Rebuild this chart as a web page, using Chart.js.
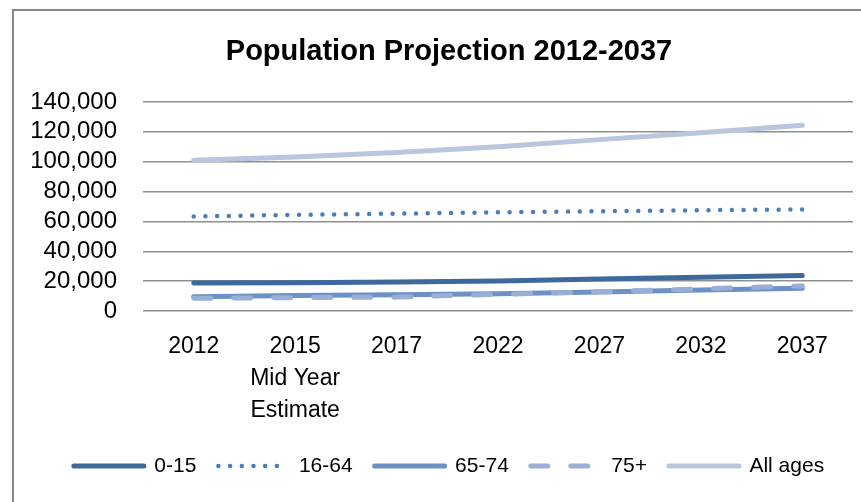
<!DOCTYPE html>
<html lang="en">
<head>
    <meta charset="UTF-8">
    <title>Population Projection 2012-2037</title>
    <script src="https://cdn.jsdelivr.net/npm/chart.js"></script>
    <style>
        html, body { margin: 0; padding: 0; overflow: hidden; background: #fff; }
        /* chart frame, only top and left edges are visible in the original */
        #frame {
            position: absolute; left: 12px; top: 9px;
            width: 900px; height: 600px;
            border: 2px solid #868686;
        }
        /* canvas is a bit wider than the window so title/legend centre like the original */
        #popChart { position: absolute; left: 0; top: 0; }
    </style>
</head>
<body>
    <div id="frame"></div>
    <canvas id="popChart" width="888" height="502"></canvas>

    <script>
        const categories = ['2012', ['2015', 'Mid Year', 'Estimate'], '2017', '2022', '2027', '2032', '2037'];
        const seriesNames = ['0-15', '16-64', '65-74', '75+', 'All ages'];
        const age0to15 = [18800, 19000, 19400, 20100, 21400, 22600, 23700];
        const age16to64 = [63300, 64400, 65200, 66100, 66800, 67500, 68000];
        const age65to74 = [9600, 10300, 10900, 11500, 12800, 14100, 15200];
        const age75plus = [8500, 8900, 9300, 11200, 12900, 14800, 16800];
        const allAges = [100900, 103200, 106200, 110000, 114800, 119400, 124400];
        const yMax = 140000;
        const yStep = 20000;

        const fontName = "'Liberation Sans', Arial, sans-serif";

        const styles = [
            { color: '#3e699d', width: 5, dash: [] },
            { color: '#4a7ebb', width: 4.5, dash: [0, 11.7] },
            { color: '#6d91c7', width: 5, dash: [] },
            { color: '#9aaed6', width: 5, dash: [17, 23] },
            { color: '#b9c6dd', width: 5, dash: [] }
        ];
        const values = [age0to15, age16to64, age65to74, age75plus, allAges];

        const datasets = values.map((v, i) => ({
            label: seriesNames[i],
            data: v,
            yAxisID: 'y',
            borderColor: styles[i].color,
            backgroundColor: styles[i].color,
            borderWidth: styles[i].width,
            borderDash: styles[i].dash,
            borderCapStyle: 'round',
            borderJoinStyle: 'round',
            pointRadius: 0,
            pointHoverRadius: 0,
            tension: 0,
            fill: false,
            order: values.length - i   // later series painted on top, like the original
        }));

        const ctx = document.getElementById('popChart').getContext('2d');
        const popChart = new Chart(ctx, {
            type: 'line',
            data: { labels: categories, datasets: datasets },
            options: {
                responsive: false,
                animation: false,
                layout: { padding: { left: 10, right: 0, top: 0, bottom: 15.5 } },
                plugins: {
                    tooltip: { enabled: false },
                    title: {
                        display: true,
                        text: 'Population Projection 2012-2037',
                        color: '#000',
                        font: { family: fontName, size: 29, weight: 'bold', lineHeight: 1.2 },
                        padding: { top: 34.6, bottom: 32.6 }
                    },
                    legend: {
                        position: 'bottom',
                        labels: {
                            usePointStyle: true,
                            pointStyleWidth: 70,
                            padding: 22,
                            color: '#000',
                            font: { family: fontName, size: 21 },
                            generateLabels: chart => chart.data.datasets.map((ds, i) => ({
                                text: ds.label,
                                datasetIndex: i,
                                pointStyle: 'line',
                                strokeStyle: ds.borderColor,
                                fillStyle: ds.borderColor,
                                lineWidth: ds.borderWidth,
                                lineDash: ds.borderDash,
                                lineCap: 'round',
                                fontColor: '#000',
                                hidden: false
                            }))
                        }
                    }
                },
                scales: {
                    x: {
                        offset: true,
                        grid: { display: false, drawTicks: false },
                        border: { display: false },
                        ticks: {
                            color: '#000',
                            padding: 20,
                            maxRotation: 0,
                            autoSkip: false,
                            font: { family: fontName, size: 23, lineHeight: 1.39 }
                        },
                        afterFit: scale => { scale.height = 122.5; }
                    },
                    y: {
                        position: 'left',
                        min: 0,
                        max: yMax,
                        grid: { color: '#8f8f8f', lineWidth: 1.5, drawTicks: false },
                        border: { display: false },
                        ticks: {
                            stepSize: yStep,
                            autoSkip: false,
                            color: '#000',
                            padding: 26,
                            font: { family: fontName, size: 24 },
                            callback: v => v.toLocaleString('en-US')
                        },
                        afterFit: scale => { scale.width = 133; }
                    },
                    // empty spacer on the right, keeps the plot ending at the original edge
                    spacer: {
                        type: 'linear',
                        position: 'right',
                        grid: { display: false, drawTicks: false },
                        border: { display: false },
                        ticks: { display: false },
                        afterFit: scale => { scale.width = 35; }
                    }
                }
            }
        });
    </script>
</body>
</html>
